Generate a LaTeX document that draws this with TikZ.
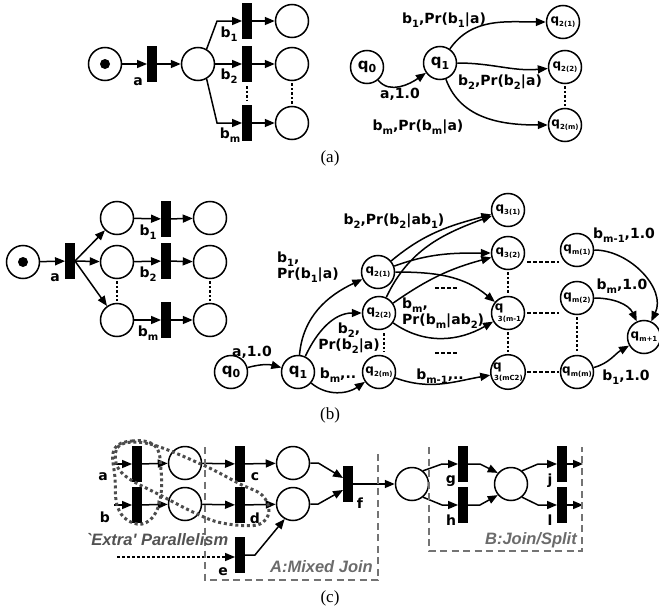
\documentclass[tikz,border=0pt]{standalone}
\usepackage{fontspec}
\setmainfont{Liberation Serif}
\setsansfont{DejaVu Sans}
\newfontfamily\grpfamily{Liberation Sans}
\usepackage{tikz}
\usetikzlibrary{arrows.meta, positioning}

% subscripts for edge labels and for the small states
\newcommand\lsub[1]{\raisebox{-0.45ex}{\fontsize{10}{10}\selectfont #1}}
\newcommand\qsub[1]{\raisebox{-0.5ex}{\fontsize{7}{7}\selectfont #1}}
\newcommand\bsub[1]{\raisebox{-0.45ex}{\fontsize{11}{11}\selectfont #1}}

\tikzset{
  place/.style={circle, draw, line width=1.5pt, minimum size=33pt, inner sep=0pt},
  trans/.style={rectangle, fill=black, minimum width=9.5pt, minimum height=36pt, inner sep=0pt},
  state/.style={circle, draw, line width=1.5pt, minimum size=33pt, inner sep=0pt,
    font=\sffamily\bfseries\fontsize{15}{15}\selectfont},
  small/.style={state, font=\sffamily\bfseries\fontsize{12}{12}\selectfont},
  lbl/.style={inner sep=0pt, font=\sffamily\bfseries\fontsize{14}{16}\selectfont},
  arc/.style={line width=1.5pt, -{Triangle[length=10pt,width=8pt]}},
  dots/.style={line width=1.4pt, dash pattern=on 2.5pt off 2pt},
  dashes/.style={line width=1.3pt, dash pattern=on 3.5pt off 2.5pt},
  group/.style={black!55, line width=1.1pt, dash pattern=on 7pt off 4.5pt},
  grouplbl/.style={inner sep=0pt, text=black!58, font=\grpfamily\bfseries\itshape\fontsize{16.5}{16.5}\selectfont},
  parallel/.style={black!70, line width=3pt, dash pattern=on 3pt off 2.8pt},
  caption/.style={font=\fontsize{17}{17}\selectfont}
}

\begin{document}
\begin{tikzpicture}[x=1pt, y=-1pt]
\useasboundingbox (0,0) rectangle (659,613);

%% (a) net
\node[place] (a0) at (105,64) {};
\fill (a0) circle (5pt);
\node[trans] (aA) at (152,64) {};
\node[place] (a1) at (198,64) {};
\node[trans] (aB1) at (247,21) {};
\node[trans] (aB2) at (247,64) {};
\node[trans] (aBm) at (247,123) {};
\node[place] (a21) at (292,21) {};
\node[place] (a22) at (292,64) {};
\node[place] (a2m) at (292,123) {};

\draw[arc] (a0) -- (aA);
\draw[arc] (aA) -- (a1);
\draw[arc] (a1.60) -- ([xshift=-25pt]aB1.west) -- (aB1.west);
\draw[arc] (a1) -- (aB2);
\draw[arc] (a1.-60) -- ([xshift=-25pt]aBm.west) -- (aBm.west);
\foreach \i in {1,2,m}
  \draw[arc] (aB\i) -- (a2\i);
\draw[dots] ([yshift=-4pt]aB2.south) -- ([yshift=4pt]aBm.north);
\draw[dots] ([yshift=-2pt]a22.south) -- ([yshift=2pt]a2m.north);

\node[lbl] at (138,82) {a};
\node[lbl] at (229,34) {b\lsub{1}};
\node[lbl] at (229,76) {b\lsub{2}};
\node[lbl] at (230,135) {b\lsub{m}};

%% (a) automaton
\node[state] (q0) at (367,67) {q\bsub{0}};
\node[state] (q1) at (440,63) {q\bsub{1}};
\node[small] (q21) at (563,22) {q\qsub{2(1)}};
\node[small] (q22) at (565,67) {q\qsub{2(2)}};
\node[small] (q2m) at (565,125) {q\qsub{2(m)}};

\draw[arc] (q0) to[out=-50, in=-145] (q1);
\draw[arc] (q1) to[out=55, in=180] (q21);
\draw[arc] (q1) to[out=0, in=185] (q22);
\draw[arc] (q1) to[out=-70, in=180] (q2m);
\draw[dots] ([yshift=-2pt]q22.south) -- ([yshift=2pt]q2m.north);

\node[lbl] at (400,94) {a,1.0};
\node[lbl] at (444,20) {b\lsub{1},Pr(b\lsub{1}|a)};
\node[lbl] at (500,82) {b\lsub{2},Pr(b\lsub{2}|a)};
\node[lbl] at (418,127) {b\lsub{m},Pr(b\lsub{m}|a)};

\node[caption] (capa) at (330,158) {(a)};

%% (b) net
\node[place] (b0) at (23,262) {};
\fill (b0) circle (5pt);
\node[trans] (bA) at (70,261) {};
\node[place] (b11) at (117,218) {};
\node[place] (b12) at (117,262) {};
\node[place] (b1m) at (117,320) {};
\node[trans] (bB1) at (166,219) {};
\node[trans] (bB2) at (166,261) {};
\node[trans] (bBm) at (166,320) {};
\node[place] (b21) at (210,218) {};
\node[place] (b22) at (210,262) {};
\node[place] (b2m) at (210,320) {};

\draw[arc] (b0) -- (bA);
\foreach \i in {1,2,m} {
  \draw[arc] (bA.east) -- (b1\i);
  \draw[arc] (b1\i) -- (bB\i);
  \draw[arc] (bB\i) -- (b2\i);
}
\draw[dots] ([yshift=-2pt]b12.south) -- ([yshift=2pt]b1m.north);
\draw[dots] ([yshift=-2pt]b22.south) -- ([yshift=2pt]b2m.north);

\node[lbl] at (55,278) {a};
\node[lbl] at (148,232) {b\lsub{1}};
\node[lbl] at (148,274) {b\lsub{2}};
\node[lbl] at (148,333) {b\lsub{m}};

%% (b) automaton
\node[state] (r0) at (231,372) {q\bsub{0}};
\node[state] (r1) at (298,372) {q\bsub{1}};
\node[small] (r21) at (378,272) {q\qsub{2(1)}};
\node[small] (r22) at (379,313) {q\qsub{2(2)}};
\node[small] (r2m) at (379,372) {q\qsub{2(m)}};
\node[small] (r31) at (508,210) {q\qsub{3(1)}};
\node[small] (r32) at (508,253) {q\qsub{3(2)}};
\node[small, align=left] (r3a) at (508,313) {q\\[-5pt]\hspace*{3pt}\qsub{3(m-1}};
\node[small, align=left] (r3c) at (508,372) {q\\[-5pt]\hspace*{1pt}\qsub{3(mC2)}};
\node[small] (rm1) at (577,250) {q\qsub{m(1)}};
\node[small] (rm2) at (577,298) {q\qsub{m(2)}};
\node[small] (rmm) at (577,372) {q\qsub{m(m)}};
\node[small] (rend) at (644,337) {q\qsub{m+1}};

\draw[arc] (r0) to[out=15, in=165] (r1);
\draw[arc] (r1) to[out=85, in=-155] (r21);
\draw[arc] (r1) to[out=65, in=180] (r22);
\draw[arc] (r1) to[out=-40, in=-145] (r2m);

\draw[arc] (r21) to[out=40, in=195] (r31);
\draw[arc] (r21) to[out=20, in=180] (r32);
\draw[arc] (r21) to[out=0, in=140] (r3a);
\draw[arc] (r22) to[out=65, in=200] (r31);
\draw[arc] (r22) to[out=35, in=195] (r32);
\draw[arc] (r22) to[out=-35, in=-150] (r3a);
\draw[arc] (r2m) to[out=-20, in=-170] (r3c);

\draw[arc] (rm1) to[out=0, in=65] (rend);
\draw[arc] (rm2) to[out=0, in=115] (rend);
\draw[arc] (rmm) to[out=15, in=-150] (rend);

\draw[dots] (384,333) -- (384,352);
\draw[dots] ([yshift=-2pt]r32.south) -- ([yshift=2pt]r3a.north);
\draw[dots] ([yshift=-2pt]r3a.south) -- ([yshift=2pt]r3c.north);
\draw[dots] ([yshift=-2pt]rm2.south) -- ([yshift=2pt]rmm.north);
\draw[dashes] (435,288) -- (458,288);
\draw[dashes] (435,353) -- (458,353);
\draw[dashes] (527,262) -- (559,262);
\draw[dashes] (527,313) -- (559,313);
\draw[dashes] (527,372) -- (559,372);

\node[lbl] at (252,352) {a,1.0};
\node[lbl, align=left, anchor=north west] at (277,252) {b\lsub{1},\\Pr(b\lsub{1}|a)};
\node[lbl, align=center] at (349,338) {b\lsub{2},\\Pr(b\lsub{2}|a)};
\node[lbl, align=left, anchor=north west] at (402,298) {b\lsub{m},\\Pr(b\lsub{m}|ab\lsub{2})};
\node[lbl] at (394,221) {b\lsub{2},Pr(b\lsub{2}|ab\lsub{1})};
\node[lbl] at (338,375) {b\lsub{m},..};
\node[lbl] at (440,376) {b\lsub{m-1},..};
\node[lbl] at (624,235) {b\lsub{m-1},1.0};
\node[lbl] at (622,286) {b\lsub{m},1.0};
\node[lbl] at (626,377) {b\lsub{1},1.0};

\node[caption] (capb) at (330,415) {(b)};

%% (c) net
\node[trans] (cA) at (137,464) {};
\node[trans] (cB) at (137,505) {};
\node[place] (pA) at (185,463) {};
\node[place] (pB) at (185,504) {};
\node[trans] (cC) at (240,464) {};
\node[trans] (cD) at (240,505) {};
\node[trans] (cE) at (240,555) {};
\node[place] (pC) at (293,463) {};
\node[place] (pD) at (293,504) {};
\node[trans] (cF) at (348,484) {};
\node[place] (pF) at (412,484) {};
\node[trans] (cG) at (463,464) {};
\node[trans] (cH) at (463,505) {};
\node[place] (pG) at (511,484) {};
\node[trans] (cJ) at (562,464) {};
\node[trans] (cL) at (562,505) {};
\coordinate (inA) at (114,464);
\coordinate (inB) at (114,505);
\coordinate (inE) at (117,557);
\coordinate (outJ) at (583,464);
\coordinate (outL) at (583,505);

\draw[arc] (inA) -- (cA);
\draw[arc] (inB) -- (cB);
\draw[arc] (cA) -- (pA);
\draw[arc] (cB) -- (pB);
\draw[arc] (pA) -- (cC);
\draw[arc] (pB) -- (cD);
\draw[arc] (cC) -- (pC);
\draw[arc] (cD) -- (pD);
\draw[arc] (pC.east) -- ++(8,0) -- ([yshift=6pt]cF.west);
\draw[arc] (pD.east) -- ++(8,0) -- ([yshift=-6pt]cF.west);
\draw[arc, dash pattern=on 3pt off 2pt] (inE) -- (cE.west |- inE);
\draw[arc] (cE.east) -- ++(10,0) -- (pD.241);
\draw[arc] (cF) -- (pF);
\draw[arc] (pF.50) -- ([xshift=-16pt]cG.west) -- (cG.west);
\draw[arc] (pF.-50) -- ([xshift=-16pt]cH.west) -- (cH.west);
\draw[arc] (cG.east) -- ++(12,0) -- (pG.140);
\draw[arc] (cH.east) -- ++(12,0) -- (pG.-140);
\draw[arc] (pG.50) -- ([xshift=-19pt]cJ.west) -- (cJ.west);
\draw[arc] (pG.-50) -- ([xshift=-19pt]cL.west) -- (cL.west);
\draw[arc] (cJ) -- (outJ);
\draw[arc] (cL) -- (outL);

\node[lbl] at (103,477) {a};
\node[lbl] at (105,517) {b};
\node[lbl] at (255,477) {c};
\node[lbl] at (255,518) {d};
\node[lbl] at (223,572) {e};
\node[lbl] at (360,503) {f};
\node[lbl] at (451,481) {g};
\node[lbl] at (451,520) {h};
\node[lbl] at (550,481) {j};
\node[lbl] at (550,520) {l};

% the two regions
\draw[group] (205,447) -- (205,580) -- (378,580) -- (378,452);
\draw[group] (429,447) -- (429,551) -- (582,551) -- (582,447);
\node[grouplbl, anchor=east] at (373,567) {A:Mixed Join};
\node[grouplbl, anchor=east] at (577,540) {B:Join/Split};
\node[grouplbl, text=black!68] at (157,540) {`Extra' Parallelism};

% extra parallelism loops
\draw[parallel] plot[smooth cycle, tension=0.7] coordinates
  {(114,450) (132,441) (155,446) (161,470) (160,500) (150,520) (133,523) (118,508) (115,478)};
\draw[parallel] plot[smooth cycle, tension=0.6] coordinates
  {(120,445) (150,444) (203,465) (240,484) (262,495) (269,512) (257,525) (222,523) (195,513) (160,495) (128,478) (116,463)};

\node[caption] (capc) at (330,598) {(c)};
\end{tikzpicture}
\end{document}
